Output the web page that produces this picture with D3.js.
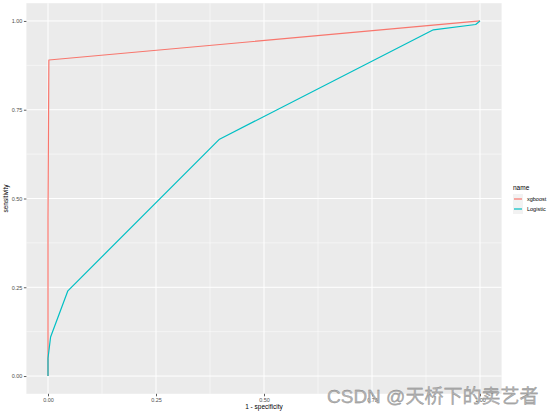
<!DOCTYPE html>
<html><head><meta charset="utf-8">
<script src="https://cdn.jsdelivr.net/npm/d3@7"></script>
<style>body{margin:0;background:#fff}svg{display:block}text{font-family:"Liberation Sans",Arial,sans-serif}</style>
</head><body><svg id="c" width="554" height="415"></svg>
<script>
const seriesNames = ["xgboost", "Logistic"];
const seriesColors = ["#F8766D", "#00BFC4"];
const xgboostFpr = [0, 0, 0.002, 1];
const xgboostTpr = [0, 0.445, 0.89, 1];
const logisticFpr = [0, 0, 0.006, 0.046, 0.397, 0.892, 0.99, 1];
const logisticTpr = [0, 0.05, 0.11, 0.24, 0.667, 0.975, 0.99, 1];
const tickValues = [0, 0.25, 0.5, 0.75, 1];
const tickLabels = ["0.00", "0.25", "0.50", "0.75", "1.00"];
const minorTicks = [0.125, 0.375, 0.625, 0.875];

const svg = d3.select("#c");
const L = 26.4, R = 501.6, T = 3.2, B = 393.8;
const x = d3.scaleLinear().domain([-0.05, 1.05]).range([L, R]);
const y = d3.scaleLinear().domain([-0.05, 1.05]).range([B, T]);

svg.append("rect").attr("x", L).attr("y", T).attr("width", R - L).attr("height", B - T).attr("fill", "#EBEBEB");
const g = svg.append("g");
minorTicks.forEach(v => {
  g.append("line").attr("x1", x(v)).attr("x2", x(v)).attr("y1", T).attr("y2", B).attr("stroke", "#fff").attr("stroke-width", 0.5);
  g.append("line").attr("y1", y(v)).attr("y2", y(v)).attr("x1", L).attr("x2", R).attr("stroke", "#fff").attr("stroke-width", 0.5);
});
tickValues.forEach(v => {
  g.append("line").attr("x1", x(v)).attr("x2", x(v)).attr("y1", T).attr("y2", B).attr("stroke", "#fff").attr("stroke-width", 1);
  g.append("line").attr("y1", y(v)).attr("y2", y(v)).attr("x1", L).attr("x2", R).attr("stroke", "#fff").attr("stroke-width", 1);
});

const fmt = d => tickLabels[tickValues.indexOf(d)];
const xAxis = svg.append("g").attr("transform", `translate(0,${B})`)
  .call(d3.axisBottom(x).tickValues(tickValues).tickFormat(fmt).tickSize(2.5).tickPadding(1.5));
const yAxis = svg.append("g").attr("transform", `translate(${L},0)`)
  .call(d3.axisLeft(y).tickValues(tickValues).tickFormat(fmt).tickSize(2.5).tickPadding(1.5));
[xAxis, yAxis].forEach(a => {
  a.select(".domain").remove();
  a.selectAll(".tick line").attr("stroke", "#333").attr("stroke-width", 0.8);
  a.selectAll(".tick text").attr("fill", "#4D4D4D").style("font-size", "5.5px");
});

const line = d3.line().x(d => x(d[0])).y(d => y(d[1]));
const data = [
  d3.zip(xgboostFpr, xgboostTpr),
  d3.zip(logisticFpr, logisticTpr)
];
data.forEach((d, i) => {
  svg.append("path").datum(d).attr("d", line).attr("fill", "none")
    .attr("stroke", seriesColors[i]).attr("stroke-width", 1.2).attr("stroke-linejoin", "round");
});

svg.append("text").attr("x", (L + R) / 2).attr("y", 409).attr("text-anchor", "middle")
  .style("font-size", "6.5px").attr("fill", "#000").text("1 - specificity");
svg.append("text").attr("transform", `translate(8,${(T + B) / 2}) rotate(-90)`).attr("text-anchor", "middle")
  .style("font-size", "6.5px").attr("fill", "#000").text("sensitivity");

const lg = svg.append("g").attr("transform", "translate(513,0)");
lg.append("text").attr("x", 0).attr("y", 190).style("font-size", "6.5px").attr("fill", "#000").text("name");
seriesNames.forEach((n, i) => {
  const yy = 194 + i * 10;
  lg.append("rect").attr("x", 0).attr("y", yy).attr("width", 10).attr("height", 10).attr("fill", "#F2F2F2");
  lg.append("line").attr("x1", 1).attr("x2", 9).attr("y1", yy + 5).attr("y2", yy + 5).attr("stroke", seriesColors[i]).attr("stroke-width", 1.2);
  lg.append("text").attr("x", 14).attr("y", yy + 7).style("font-size", "5.5px").attr("fill", "#000").text(n);
});

svg.append("text").attr("x", 327).attr("y", 403).style("font-size", "19px")
  .style("font-family", "'Liberation Sans','Noto Sans CJK SC',sans-serif")
  .attr("fill", "#b4b4b4").attr("stroke", "#808080").attr("stroke-width", 0.3)
  .text("CSDN @天桥下的卖艺者");
</script></body></html>
